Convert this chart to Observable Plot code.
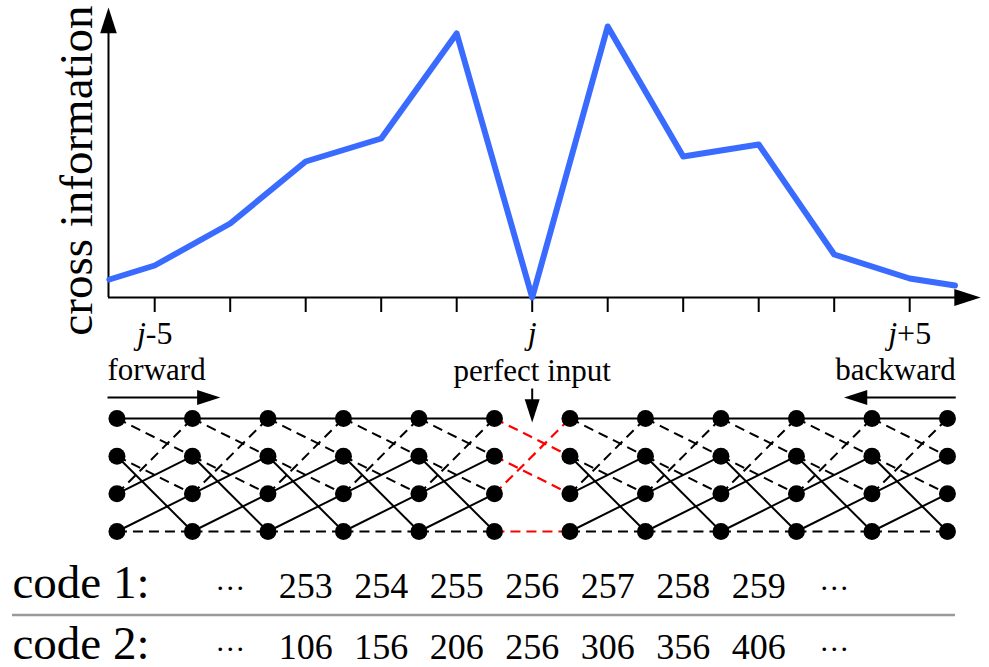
<!DOCTYPE html>
<html>
<head>
<meta charset="utf-8">
<script src="https://cdn.jsdelivr.net/npm/d3@7"></script>
<script src="https://cdn.jsdelivr.net/npm/@observablehq/plot@0.6"></script>
<style>
  body { margin: 0; background: #fff; }
  #chart { width: 989px; }
  #chart svg { display: block; }
</style>
</head>
<body>
<div id="chart"></div>
<script>
// ---------------- data ----------------
// position relative to the perfect-input section j (in sections)
const positions = [-5.6, -5, -4, -3, -2, -1, 0, 1, 2, 3, 4, 5, 5.6];
// cross information (arbitrary units)
const crossInfo = [18, 32, 74, 136, 159, 264, 0, 271, 141, 153, 43, 19, 12];

const tickPositions = [-5, -4, -3, -2, -1, 0, 1, 2, 3, 4, 5];
const tickLabels = ["j-5", "", "", "", "", "j", "", "", "", "", "j+5"];

// trellis: 12 sections of 4 states
const trellisColumns = [-5.5, -4.5, -3.5, -2.5, -1.5, -0.5, 0.5, 1.5, 2.5, 3.5, 4.5, 5.5];
const states = [0, 1, 2, 3];
const transitionFrom = [0, 0, 1, 1, 2, 2, 3, 3];
const transitionTo   = [0, 1, 3, 2, 1, 0, 2, 3];
const transitionType = ["solid", "dashed", "solid", "dashed", "solid", "dashed", "solid", "dashed"];
const perfectSection = 5; // transition between column 5 and 6 is the perfect input

const annotationLabels = ["forward", "perfect input", "backward"];

const codeLabels = ["code 1:", "code 2:"];
const codePositions = [-3, -2, -1, 0, 1, 2, 3];
const code1 = [253, 254, 255, 256, 257, 258, 259];
const code2 = [106, 156, 206, 256, 306, 356, 406];
const ellipsisPositions = [-4, 4];

// ---------------- layout / style ----------------
const W = 989;
const X0 = 531.7, K = 75.5;
const X_DOMAIN = [-X0 / K, (W - X0) / K];
const AXIS_X0 = -5.612, X_TIP = 5.94, Y_TIP = 290;
const FONT = "Liberation Serif, Times New Roman, serif";
const BLUE = "#3a6bff";
const baseStyle = {fontFamily: FONT, color: "black", background: "white", overflow: "visible"};

const arrowHead = {
  draw(context, size) {
    const r = Math.sqrt(size / Math.PI);
    const L = 3.1 * r;
    context.moveTo(0, 0);
    context.lineTo(r, L);
    context.lineTo(-r, L);
    context.closePath();
  }
};

const labelFor = new Map(tickPositions.map((p, i) => [p, tickLabels[i]]));
const lineData = positions.map((x, i) => ({x, y: crossInfo[i]}));

// ---------------- plot 1: cross information ----------------
const H1 = 345;
const svg1 = Plot.plot({
  width: W, height: H1,
  marginTop: 7, marginBottom: 48, marginLeft: 0, marginRight: 0,
  x: {domain: X_DOMAIN, range: [0, W]},
  y: {domain: [0, Y_TIP], axis: null},
  style: baseStyle,
  marks: [
    Plot.ruleX([AXIS_X0], {y1: 0, y2: Y_TIP - 10, strokeWidth: 2}),
    Plot.ruleY([0], {x1: AXIS_X0, x2: X_TIP - 0.15, strokeWidth: 2}),
    Plot.dot([Y_TIP], {x: AXIS_X0, y: d => d, symbol: arrowHead, r: 8.3, fill: "black"}),
    Plot.dot([X_TIP], {x: d => d, y: 0, symbol: arrowHead, r: 8.5, rotate: 90, fill: "black"}),
    Plot.axisX(tickPositions, {
      tickSize: 15, tickPadding: 9, strokeWidth: 2,
      tickFormat: d => labelFor.get(d), fontSize: 32, label: null, fontFamily: FONT
    }),
    Plot.line(lineData, {x: "x", y: "y", stroke: BLUE, strokeWidth: 6, strokeLinejoin: "round"}),
    Plot.text(["cross information"], {
      text: d => d, frameAnchor: "left", rotate: -90, dx: 91, dy: 18,
      lineAnchor: "bottom", textAnchor: "middle", fontSize: 47, fontFamily: FONT
    })
  ]
});

// italic "j" in tick labels
d3.select(svg1).selectAll("text").each(function () {
  const t = this.textContent;
  if (/^j/.test(t)) {
    const s = d3.select(this);
    s.text(null);
    s.append("tspan").attr("font-style", "italic").text("j");
    if (t.length > 1) s.append("tspan").text(t.slice(1));
  }
});

// ---------------- plot 2: trellis ----------------
const H2 = 205;
const ROW_TOP = 73, ROW_STEP = 37.67;
const rowOf = px => (px - ROW_TOP) / ROW_STEP;

const nodes = [];
for (const x of trellisColumns) for (const s of states) nodes.push({x, y: s});
const edges = [];
for (let c = 0; c < trellisColumns.length - 1; c++) {
  const forced = c === perfectSection;
  transitionFrom.forEach((f, k) => {
    if (forced && transitionType[k] === "solid") return;
    edges.push({x1: trellisColumns[c], x2: trellisColumns[c + 1], y1: f, y2: transitionTo[k],
                type: forced ? "forced" : transitionType[k]});
  });
}

const FWD_X0 = -5.625, FWD_TIP = -4.13, BWD_X0 = 5.61, BWD_TIP = 4.13;
const TEXT_BASE = 34, ARROW_Y = 52;

const svg2 = Plot.plot({
  width: W, height: H2,
  marginTop: 0, marginBottom: 0, marginLeft: 0, marginRight: 0,
  x: {domain: X_DOMAIN, range: [0, W], axis: null},
  y: {domain: [0, 3], range: [ROW_TOP, ROW_TOP + 3 * ROW_STEP], axis: null},
  style: baseStyle,
  marks: [
    Plot.link(edges.filter(e => e.type === "solid"), {x1: "x1", y1: "y1", x2: "x2", y2: "y2", stroke: "black", strokeWidth: 2}),
    Plot.link(edges.filter(e => e.type === "dashed"), {x1: "x1", y1: "y1", x2: "x2", y2: "y2", stroke: "black", strokeWidth: 2, strokeDasharray: "10,6"}),
    Plot.link(edges.filter(e => e.type === "forced"), {x1: "x1", y1: "y1", x2: "x2", y2: "y2", stroke: "#ff0000", strokeWidth: 2.2, strokeDasharray: "10,6"}),
    Plot.dot(nodes, {x: "x", y: "y", r: 8.5, fill: "black"}),
    // labels
    Plot.text([annotationLabels[0]], {text: d => d, x: () => FWD_X0, y: () => rowOf(TEXT_BASE), textAnchor: "start", lineAnchor: "bottom", fontSize: 31, fontFamily: FONT}),
    Plot.text([annotationLabels[1]], {text: d => d, x: () => 0, y: () => rowOf(TEXT_BASE + 1), textAnchor: "middle", lineAnchor: "bottom", fontSize: 31, fontFamily: FONT}),
    Plot.text([annotationLabels[2]], {text: d => d, x: () => BWD_X0, y: () => rowOf(TEXT_BASE), textAnchor: "end", lineAnchor: "bottom", fontSize: 31, fontFamily: FONT}),
    // forward / backward arrows
    Plot.link([0], {x1: () => FWD_X0, x2: () => FWD_TIP - 0.2, y1: () => rowOf(ARROW_Y), y2: () => rowOf(ARROW_Y), stroke: "black", strokeWidth: 2}),
    Plot.dot([0], {x: () => FWD_TIP, y: () => rowOf(ARROW_Y), symbol: arrowHead, r: 7.5, rotate: 90, fill: "black"}),
    Plot.link([0], {x1: () => BWD_X0, x2: () => BWD_TIP + 0.2, y1: () => rowOf(ARROW_Y), y2: () => rowOf(ARROW_Y), stroke: "black", strokeWidth: 2}),
    Plot.dot([0], {x: () => BWD_TIP, y: () => rowOf(ARROW_Y), symbol: arrowHead, r: 7.5, rotate: -90, fill: "black"}),
    // perfect input arrow
    Plot.link([0], {x1: () => 0, x2: () => 0, y1: () => rowOf(43), y2: () => rowOf(60), stroke: "black", strokeWidth: 2}),
    Plot.dot([0], {x: () => 0, y: () => rowOf(77), symbol: arrowHead, r: 7.5, rotate: 180, fill: "black"})
  ]
});

// ---------------- plot 3: code indices ----------------
const H3 = 117;
const codeData = [];
codePositions.forEach((p, i) => {
  codeData.push({x: p, row: 1, label: String(code1[i])});
  codeData.push({x: p, row: 2, label: String(code2[i])});
});
const dotsData = [];
ellipsisPositions.forEach(p => { dotsData.push({x: p, row: 1}); dotsData.push({x: p, row: 2}); });

const svg3 = Plot.plot({
  width: W, height: H3,
  marginTop: 0, marginBottom: 0, marginLeft: 0, marginRight: 0,
  x: {domain: X_DOMAIN, range: [0, W], axis: null},
  y: {domain: [1, 2], range: [47, 108], axis: null},
  style: baseStyle,
  marks: [
    Plot.ruleY([1.5], {insetLeft: 12, insetRight: 34, dy: -13, stroke: "#9a9a9a", strokeWidth: 2.5}),
    Plot.text(codeLabels, {text: d => d, y: (d, i) => i + 1, frameAnchor: "left", dx: 12, textAnchor: "start", lineAnchor: "bottom", fontSize: 47, fontFamily: FONT}),
    Plot.text(codeData, {x: "x", y: "row", text: "label", textAnchor: "middle", lineAnchor: "bottom", fontSize: 36, fontFamily: FONT}),
    Plot.text(dotsData, {x: "x", y: "row", text: () => "···", textAnchor: "middle", lineAnchor: "bottom", fontSize: 30, fontFamily: FONT})
  ]
});

const chart = document.getElementById("chart");
chart.append(svg1, svg2, svg3);
</script>
</body>
</html>
